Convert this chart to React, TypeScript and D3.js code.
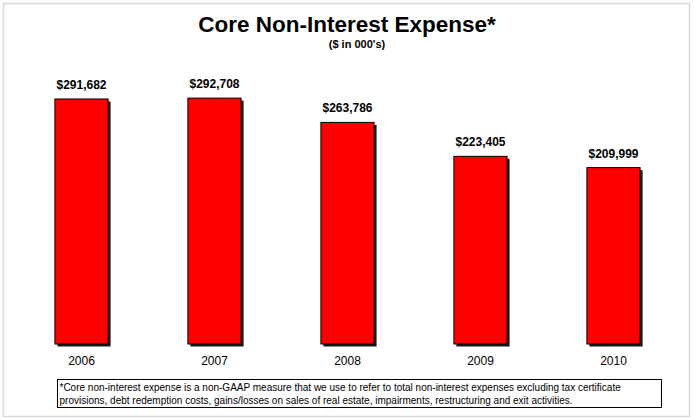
import React from "react";
import * as d3 from "d3";

const years = ["2006", "2007", "2008", "2009", "2010"];
const values = [291682, 292708, 263786, 223405, 209999];
const valueLabels = ["$291,682", "$292,708", "$263,786", "$223,405", "$209,999"];
const titleText = "Core Non-Interest Expense*";
const subtitleText = "($ in 000's)";
const footnoteLines = [
  "*Core non-interest expense is a non-GAAP measure that we use to refer to total non-interest expenses excluding tax certificate",
  "provisions, debt redemption costs, gains/losses on sales of real estate, impairments, restructuring and exit activities.",
];

const W = 695;
const H = 420;
const FONT = "Arial, 'Liberation Sans', Helvetica, sans-serif";

export default function App() {
  const x = d3.scaleBand<string>().domain(years).range([15, 680]).paddingInner(0.6).paddingOuter(0.3);
  const y = d3.scaleLinear().domain([0, 350000]).range([344, 50]);
  const bw = x.bandwidth();

  return (
    <svg
      width={W}
      height={H}
      style={{ position: "absolute", left: 0, top: 0, background: "#fff" }}
      fontFamily={FONT}
    >
      <rect x={0} y={0} width={W} height={H} fill="#fff" />
      <rect x={3.5} y={3.5} width={686} height={413} fill="#fff" stroke="#d9d9d9" strokeWidth={1.5} />
      <text x={347} y={32} textAnchor="middle" fontSize={22.5} fontWeight="bold" fill="#000">
        {titleText}
      </text>
      <text x={357} y={48} textAnchor="middle" fontSize={11} fontWeight="bold" fill="#000">
        {subtitleText}
      </text>
      {years.map((yr, i) => {
        const bx = x(yr)!;
        const top = y(values[i]);
        const h = y(0) - top;
        return (
          <g key={yr}>
            <rect x={bx + 2.5} y={top + 2.5} width={bw} height={h} fill="#1a1a1a" />
            <rect x={bx} y={top} width={bw} height={h} fill="#ff0000" stroke="#000" strokeWidth={1} />
            <text x={bx + bw / 2} y={top - 10} textAnchor="middle" fontSize={12} fontWeight="bold" fill="#000">
              {valueLabels[i]}
            </text>
            <text x={bx + bw / 2} y={365} textAnchor="middle" fontSize={12} fill="#000">
              {yr}
            </text>
          </g>
        );
      })}
      <rect x={57.5} y={379.5} width={604} height={28} fill="#fff" stroke="#000" strokeWidth={1} />
      {footnoteLines.map((l, i) => (
        <text key={i} x={59.5} y={390.5 + i * 13} fontSize={10} fill="#000">
          {l}
        </text>
      ))}
    </svg>
  );
}
